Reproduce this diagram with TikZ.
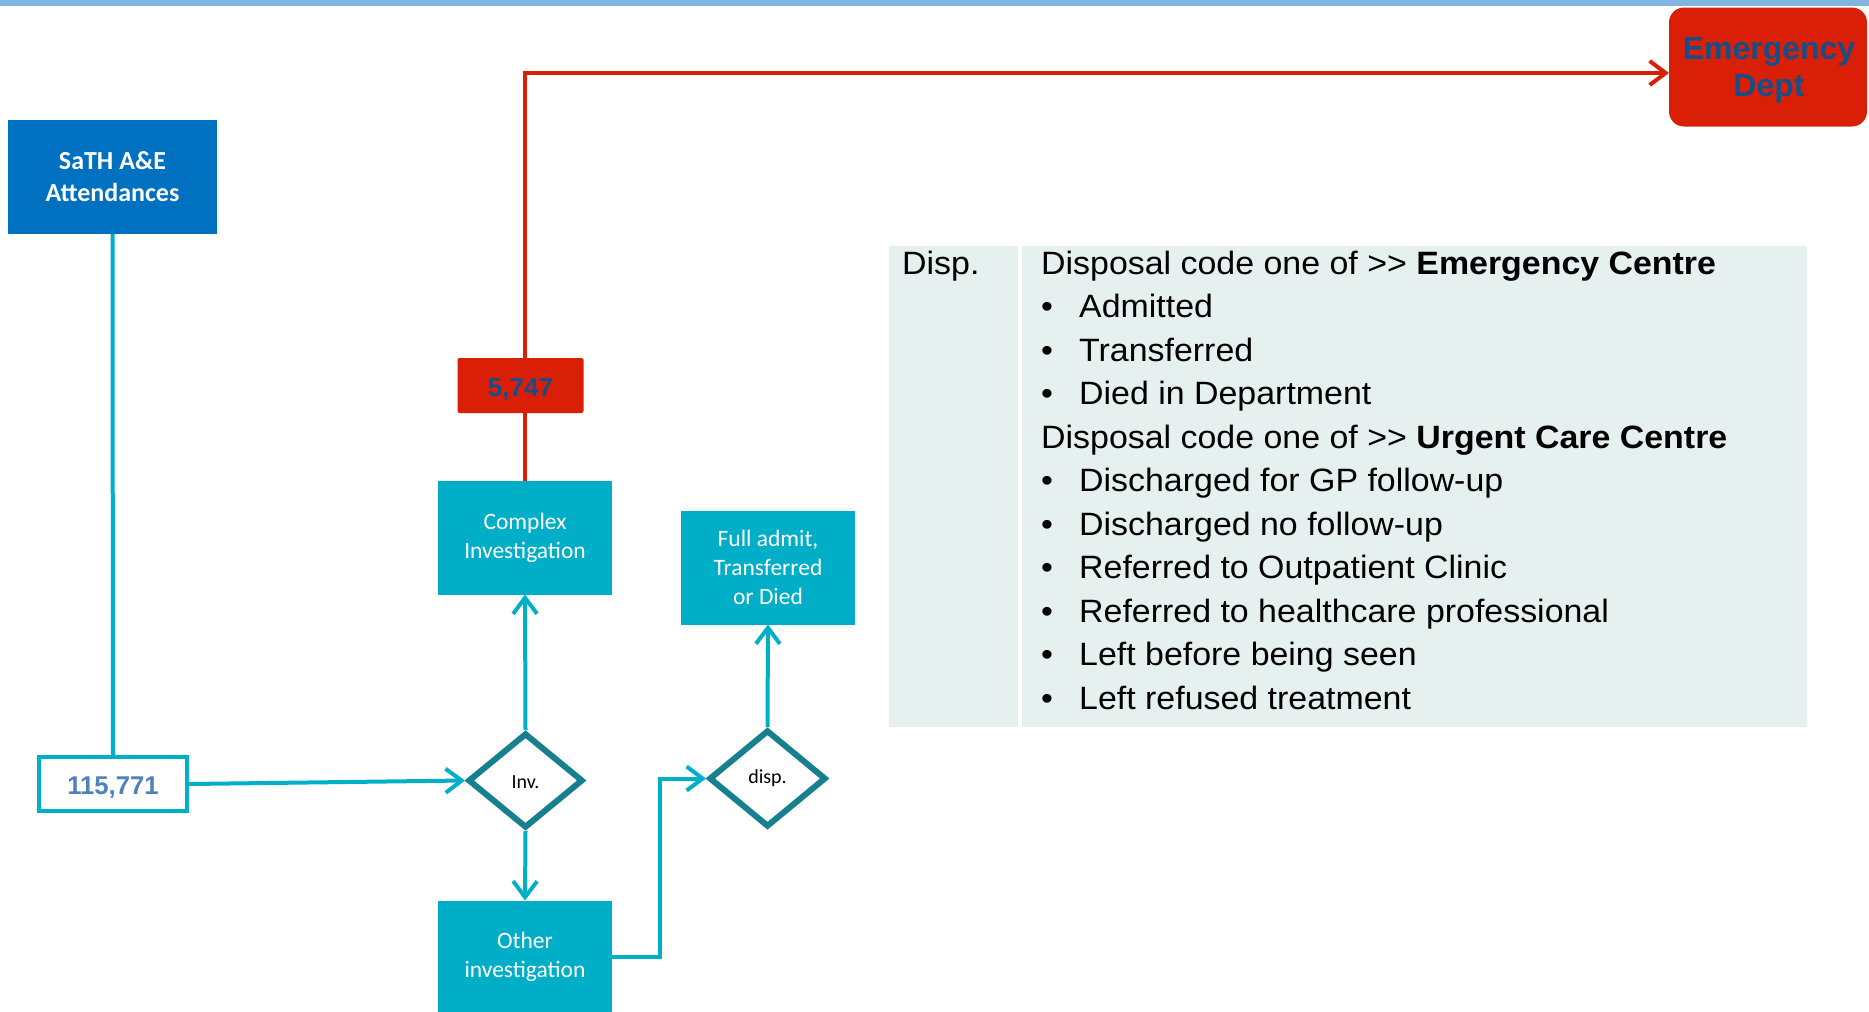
\documentclass[tikz,border=0pt]{standalone}
\usepackage{fontspec}
\setmainfont{Liberation Sans}
\newfontfamily\carl{Carlito}
\newfontfamily\tabf{Liberation Sans}[FakeStretch=1.05]
\usetikzlibrary{shapes.geometric,arrows.meta}
\definecolor{boxteal}{RGB}{0,174,199}
\definecolor{lineteal}{RGB}{0,176,202}
\definecolor{dteal}{RGB}{22,128,142}
\definecolor{sathblue}{RGB}{0,112,192}
\definecolor{edred}{RGB}{217,32,6}
\definecolor{navytext}{RGB}{22,78,135}
\definecolor{numblue}{RGB}{79,129,189}
\definecolor{tabbg}{RGB}{230,240,238}
\definecolor{topbar}{RGB}{127,181,224}
\tikzset{
  tbox/.style={rectangle, fill=boxteal, text=white, minimum width=174pt, minimum height=114pt,
     inner sep=0pt, outer sep=0pt, align=center, font=\carl\fontsize{23.5}{29}\selectfont},
  dia/.style={diamond, draw=dteal, line width=6pt, fill=white, inner sep=0pt,
     font=\carl\fontsize{20}{24}\selectfont},
  arr/.style={draw=lineteal, line width=4pt, -{Straight Barb[length=16pt,width=24pt]}},
  redarr/.style={draw=edred, line width=4pt, -{Straight Barb[length=16pt,width=24pt]}},
  tline/.style={draw=lineteal, line width=4pt},
  tabtxt/.style={anchor=base west, inner sep=0pt, font=\tabf\fontsize{32.3}{38}\selectfont},
  bul/.style={anchor=base, inner sep=0pt, font=\tabf\fontsize{32.3}{38}\selectfont},
}
\begin{document}
\begin{tikzpicture}[x=1pt,y=-1pt]
\useasboundingbox (0,0) rectangle (1869,1012);
\fill[white] (0,0) rectangle (1869,1012);
\fill[topbar] (0,0) rectangle (1869,6);

% table
\fill[tabbg] (889,246) rectangle (1807,727);
\draw[white, line width=4pt] (1019.5,246) -- (1019.5,727);

% nodes
\node[rectangle, fill=sathblue, text=white, minimum width=209pt, minimum height=114pt, inner sep=0pt, outer sep=0pt,
      align=center, font=\carl\bfseries\fontsize{26}{32}\selectfont] (sath) at (112.5,177) {SaTH A\&E\\Attendances};
\node[rectangle, draw=lineteal, line width=4pt, fill=white, minimum width=148pt, minimum height=54pt, inner sep=0pt,
      text height=20.8pt, text depth=0pt,
      text=numblue, font=\bfseries\fontsize{25.7}{30}\selectfont] (num) at (113,784) {115,771};
\node[tbox] (complex) at (525,537.5) {Complex\\Investigation};
\node[tbox] (full) at (768,567.5) {Full admit,\\Transferred\\or Died};
\node[tbox, minimum height=113pt] (other) at (525,957) {Other\\investigation};
\node[dia, minimum width=115pt, minimum height=95pt, text height=15pt, text depth=0pt] (inv) at (525.5,780.5) {Inv.};
\node[dia, minimum width=117pt, minimum height=97pt] (disp) at (767.5,778.5) {disp.};
\node[rectangle, fill=edred, minimum width=198pt, minimum height=119pt, inner sep=0pt, outer sep=0pt,
      rounded corners=15pt] (emerg) at (1768,67) {};
\node[text=navytext, align=center, inner sep=0pt, font=\bfseries\fontsize{32}{37}\selectfont] (emergtxt) at (1769,70.5) {Emergency\\Dept};
\coordinate (rc) at (525,73);

% connectors
\draw[tline] (sath.south) -- (num.north);
\draw[arr] (num.east) -- (inv.west);
\draw[arr] (inv.north) -- (complex.south);
\draw[arr] (inv.south) -- (other.north);
\draw[arr] (other.east) -- ++(48,0) |- (disp.west);
\draw[arr] (disp.north) -- (full.south);
\draw[redarr] (complex.north) -- (rc) -- (rc -| emerg.west);

\node[rectangle, fill=edred, rounded corners=2pt, minimum width=126pt, minimum height=55pt, inner sep=0pt,
      text height=21.2pt, text depth=0pt,
      text=navytext, font=\bfseries\fontsize{26}{30}\selectfont] (n5747) at (520.5,385.5) {5,747};

% table text
\node[tabtxt] (disph) at (902,274) {Disp.};
\node[tabtxt] (l0) at (1041,274) {Disposal code one of >\kern0pt> \textbf{Emergency Centre}};
\node[bul] (b1) at (1047,317.55) {•};
\node[tabtxt] (l1) at (1079,317.55) {Admitted};
\node[bul] (b2) at (1047,361.1) {•};
\node[tabtxt] (l2) at (1079,361.1) {Transferred};
\node[bul] (b3) at (1047,404.65) {•};
\node[tabtxt] (l3) at (1079,404.65) {Died in Department};
\node[tabtxt] (l4) at (1041,448.2) {Disposal code one of >\kern0pt> \textbf{Urgent Care Centre}};
\node[bul] (b5) at (1047,491.75) {•};
\node[tabtxt] (l5) at (1079,491.75) {Discharged for GP follow-up};
\node[bul] (b6) at (1047,535.3) {•};
\node[tabtxt] (l6) at (1079,535.3) {Discharged no follow-up};
\node[bul] (b7) at (1047,578.85) {•};
\node[tabtxt] (l7) at (1079,578.85) {Referred to Outpatient Clinic};
\node[bul] (b8) at (1047,622.4) {•};
\node[tabtxt] (l8) at (1079,622.4) {Referred to healthcare professional};
\node[bul] (b9) at (1047,665.95) {•};
\node[tabtxt] (l9) at (1079,665.95) {Left before being seen};
\node[bul] (b10) at (1047,709.5) {•};
\node[tabtxt] (l10) at (1079,709.5) {Left refused treatment};
\end{tikzpicture}
\end{document}
